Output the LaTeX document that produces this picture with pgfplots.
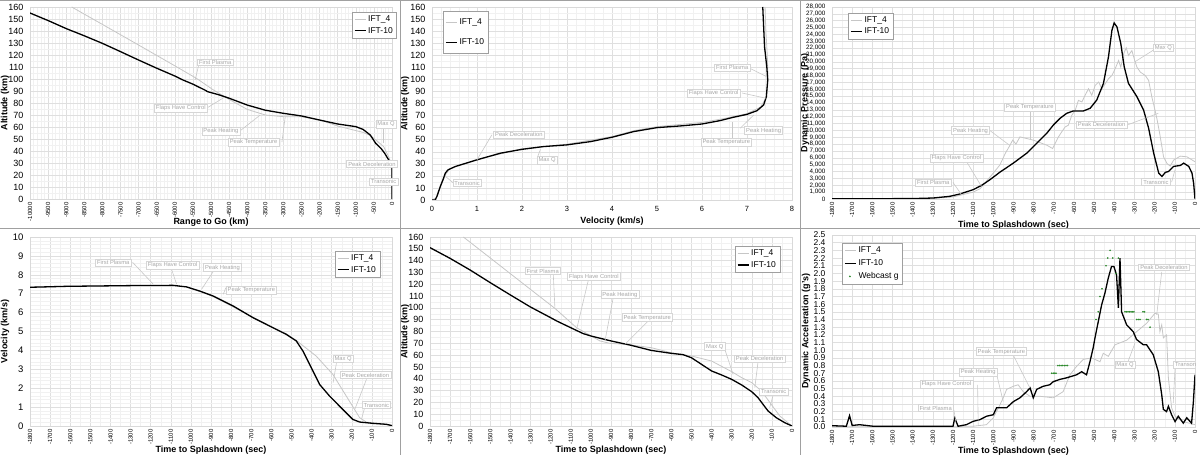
\documentclass[border=0pt]{standalone}
\usepackage{fontspec}
\setmainfont{Liberation Sans}
\usepackage{pgfplots}
\pgfplotsset{compat=1.18}

\definecolor{gline}{HTML}{C6C6C6}
\definecolor{annottext}{HTML}{A8A8A8}
\definecolor{annotbox}{HTML}{D6D6D6}
\definecolor{leadc}{HTML}{C8C8C8}
\definecolor{webg}{HTML}{2E8B2E}
\definecolor{sepc}{HTML}{A0A0A0}

\pgfplotsset{
  panel/.style={
    scale only axis,
    scaled ticks=false,
    clip mode=individual,
    axis line style={draw=gray!30, line width=0.5pt},
    major tick length=0pt, minor tick length=0pt,
    grid=both,
    major grid style={draw=gray!25, line width=0.45pt},
    minor grid style={draw=gray!11, line width=0.4pt},
    yticklabel style={font=\fontsize{9}{9}\selectfont, xshift=-3pt},
    /pgf/number format/assume math mode=true,
    /pgf/number format/1000 sep={},
    legend cell align=left,
    legend image code/.code={\draw[##1] plot coordinates {(0pt,0pt) (5pt,0pt) (11pt,0pt)};},
    legend style={draw=gray!75, line width=0.5pt, fill=white, font=\fontsize{8.5}{9}\selectfont, inner xsep=2pt, inner ysep=1.5pt, row sep=0pt},
  },
  rotx/.style={xticklabel style={font=\fontsize{6}{6}\selectfont, rotate=90, anchor=east}},
  ift4/.style={color=gline, line width=0.8pt},
  ift10/.style={color=black, line width=1.3pt},
}
\tikzset{
  annot/.style={draw=annotbox, fill=white, text=annottext, font=\fontsize{5.8}{6}\selectfont, inner xsep=1.6pt, inner ysep=1.3pt, line width=0.5pt},
  lead/.style={draw=leadc, line width=0.6pt},
}
\newcommand{\alab}{\bfseries\fontsize{9}{9}\selectfont}

\begin{document}
\begin{tikzpicture}
\useasboundingbox (0pt,0pt) rectangle (1200pt,455pt);

%================ Panel 1: Altitude vs Range to Go
\begin{axis}[panel, rotx, at={(30pt,256pt)}, anchor=south west, width=362pt, height=192pt,
  xmin=-10000, xmax=0, ymin=0, ymax=160,
  xtick distance=500, ytick distance=10, minor x tick num=4, minor y tick num=1,
  legend style={at={(1.0138,0.974)}, anchor=north east}]
\addplot[ift4] coordinates {(-8848,160) (-8000,145.5) (-7000,128.3) (-6000,111) (-5400,100.5) (-4930,90.8) (-4470,82.5) (-4000,74.7) (-3500,70) (-3000,68.6) (-2500,68.5) (-2000,66) (-1500,60.8) (-1000,57) (-800,55.5) (-600,53) (-400,48) (-230,43.6) (-90,35) (-20,30) (0,0)};
\addlegendentry{IFT\_4}
\addplot[ift10] coordinates {(-10000,155) (-9500,148.7) (-9000,142) (-8500,136) (-8000,129.7) (-7500,122.8) (-7000,115.8) (-6500,109) (-6000,102.5) (-5800,99.5) (-5500,95.7) (-5150,90.5) (-5100,89.5) (-4800,87) (-4500,84) (-4000,78.3) (-3500,74) (-3000,71.4) (-2500,69.2) (-2000,65.8) (-1500,62.5) (-1000,60.3) (-800,58) (-600,53.3) (-450,46.4) (-300,42) (-200,38) (-100,33) (-30,30) (0,27) (0,0)};
\addlegendentry{IFT-10}
\draw[lead] (axis cs:-5345,111) -- (axis cs:-5438,99.2);
\draw[lead] (axis cs:-5097,76.1) -- (axis cs:-4636,84.7);
\draw[lead] (axis cs:-4193,56.9) -- (axis cs:-3640,70);
\draw[lead] (axis cs:-3041,47.5) -- (axis cs:-2949,68.6);
\draw[lead] (axis cs:-230,58.9) -- (axis cs:-230,46.4);
\node[annot] at (axis cs:-4885,113.9) {First Plasma};
\node[annot] at (axis cs:-5834,76) {Flaps Have Control};
\node[annot] at (axis cs:-4728,56.4) {Peak Heating};
\node[annot] at (axis cs:-3825,47.5) {Peak Temperature};
\node[annot] at (axis cs:-165,62.5) {Max Q};
\node[annot] at (axis cs:-553,29.2) {Peak Deceleration};
\node[annot] at (axis cs:-230,14.4) {Transonic};
\end{axis}

%================ Panel 2: Altitude vs Velocity
\begin{axis}[panel, at={(432pt,255pt)}, anchor=south west, width=360pt, height=193pt,
  xmin=0, xmax=8, ymin=0, ymax=160,
  xtick distance=1, ytick distance=10, minor x tick num=4, minor y tick num=1,
  xticklabel style={font=\fontsize{7.5}{8}\selectfont, yshift=-3pt},
  legend style={at={(0.0306,0.979)}, anchor=north west, row sep=9pt, inner ysep=5pt}]
\addplot[ift4] coordinates {(0,0) (0.1,2) (0.2,12) (0.3,21) (0.4,26) (1.0,33.6) (2,42.5) (3,46.3) (4,52.6) (4.5,57.6) (5,60.8) (5.5,62.6) (6,64.3) (6.5,67.6) (7,71.6) (7.3,77) (7.43,85) (7.47,100) (7.45,120) (7.42,140) (7.4,160)};
\addlegendentry{IFT\_4}
\addplot[ift10] coordinates {(0.0,0) (0.07,0) (0.11,3) (0.185,11.3) (0.244,16.8) (0.296,22.3) (0.356,25) (0.52,27.8) (1.0,33.3) (1.52,38.8) (2.0,42) (2.48,44.3) (3.0,45.7) (3.52,48.4) (4.0,52) (4.48,56.7) (5.0,60) (5.52,61.4) (6.0,63) (6.4,65.8) (6.7,68.6) (7.0,71) (7.22,74) (7.37,78.8) (7.43,85.6) (7.46,99.4) (7.44,110.4) (7.39,126.9) (7.37,143.4) (7.35,160)};
\addlegendentry{IFT-10}
\draw[lead] (axis cs:7.04,109.6) -- (axis cs:7.44,102.2);
\draw[lead] (axis cs:6.89,88.7) -- (axis cs:7.43,84.3);
\draw[lead] (axis cs:6.85,59.5) -- (axis cs:7.15,70.5);
\draw[lead] (axis cs:6.67,51.2) -- (axis cs:6.67,65);
\draw[lead] (axis cs:1.33,54) -- (axis cs:1.0,33.3);
\draw[lead] (axis cs:2.35,36) -- (axis cs:2.41,42);
\draw[lead] (axis cs:0.48,14) -- (axis cs:0.3,19.5);
\node[annot] at (axis cs:6.67,109.6) {First Plasma};
\node[annot] at (axis cs:6.26,88.7) {Flaps Have Control};
\node[annot] at (axis cs:7.37,57.6) {Peak Heating};
\node[annot] at (axis cs:6.54,48.2) {Peak Temperature};
\node[annot] at (axis cs:1.93,54) {Peak Deceleration};
\node[annot] at (axis cs:2.56,32.8) {Max Q};
\node[annot] at (axis cs:0.78,14) {Transonic};
\end{axis}

%================ Panel 3: Dynamic Pressure vs Time
\begin{axis}[panel, rotx, at={(832pt,256pt)}, anchor=south west, width=363pt, height=192pt,
  xmin=-1800, xmax=0, ymin=0, ymax=28000,
  xtick distance=100, ytick distance=1000, minor x tick num=1,
  yticklabel style={font=\fontsize{6.3}{6.3}\selectfont, /pgf/number format/1000 sep={,}},
  legend style={at={(0.044,0.969)}, anchor=north west}]
\addplot[ift4] coordinates {(-1800,0) (-1400,0) (-1300,100) (-1200,300) (-1100,1000) (-1066,1500) (-1000,3780) (-967,4990) (-940,6700) (-918,7800) (-904,8600) (-888,8000) (-868,9060) (-801,8580) (-735,7850) (-706,7360) (-694,8090) (-677,9060) (-661,9790) (-644,10510) (-628,10760) (-611,12210) (-594,12940) (-578,14390) (-561,14150) (-545,15120) (-528,16090) (-512,15120) (-495,16570) (-478,17060) (-462,16090) (-445,16810) (-429,17540) (-412,18020) (-396,18990) (-379,20200) (-368,19230) (-354,21170) (-341,22050) (-330,20930) (-313,21650) (-300,20300) (-288,19230) (-271,18500) (-247,18020) (-230,17300) (-214,14870) (-202,13420) (-189,11720) (-175,9540) (-156,6150) (-139,5180) (-123,4800) (-106,5670) (-73,6250) (-40,6150) (0,5430)};
\addlegendentry{IFT\_4}
\addplot[ift10] coordinates {(-1800,30) (-1700,40) (-1600,40) (-1500,50) (-1400,60) (-1298,145) (-1216,390) (-1166,730) (-1100,1360) (-1058,1990) (-1017,2810) (-967,3920) (-901,5230) (-834,6690) (-801,7650) (-768,8620) (-735,9590) (-702,10800) (-669,11770) (-636,12500) (-603,12840) (-553,12840) (-520,13230) (-487,14440) (-454,16860) (-429,20740) (-412,24610) (-401,25680) (-387,25100) (-368,22670) (-351,19280) (-330,16860) (-288,14920) (-255,12980) (-230,10320) (-205,6690) (-180,3780) (-164,3290) (-147,3880) (-131,4020) (-106,4750) (-73,4890) (-56,5230) (-31,4750) (-15,3780) (-7,2330) (0,0)};
\addlegendentry{IFT-10}
\draw[lead] (axis cs:-1200,2420) -- (axis cs:-1158,630);
\draw[lead] (axis cs:-1133,5475) -- (axis cs:-1059,1840);
\draw[lead] (axis cs:-1017,9980) -- (axis cs:-918,7800);
\draw[lead] (axis cs:-819,12740) -- (axis cs:-819,8620);
\draw[lead] (axis cs:-207,21700) -- (axis cs:-298,20010);
\draw[lead] (axis cs:-331,10850) -- (axis cs:-182,12500);
\draw[lead] (axis cs:-116,2470) -- (axis cs:-99,4260);
\node[annot] at (axis cs:-1298,2420) {First Plasma};
\node[annot] at (axis cs:-1183,6008) {Flaps Have Control};
\node[annot] at (axis cs:-1113,9980) {Peak Heating};
\node[annot] at (axis cs:-819,13370) {Peak Temperature};
\node[annot] at (axis cs:-157,22040) {Max Q};
\node[annot] at (axis cs:-463,10850) {Peak Deceleration};
\node[annot] at (axis cs:-194,2470) {Transonic};
\end{axis}

%================ Panel 4: Velocity vs Time
\begin{axis}[panel, rotx, at={(30pt,29pt)}, anchor=south west, width=362pt, height=189pt,
  xmin=-1800, xmax=0, ymin=0, ymax=10,
  xtick distance=100, ytick distance=1, minor x tick num=1, minor y tick num=4,
  yticklabel style={font=\fontsize{9.5}{9.5}\selectfont},
  legend style={at={(0.967,0.926)}, anchor=north east}]
\addplot[ift4] coordinates {(-1800,7.34) (-1618,7.39) (-1287,7.43) (-1088,7.44) (-1022,7.36) (-956,7.12) (-890,6.85) (-790,6.3) (-691,5.75) (-592,5.22) (-526,4.88) (-476,4.53) (-377,3.7) (-294,2.73) (-212,1.32) (-161,0.44) (-128,0.21) (-61,0.12) (0,0.02)};
\addlegendentry{IFT\_4}
\addplot[ift10] coordinates {(-1800,7.34) (-1618,7.39) (-1287,7.43) (-1088,7.44) (-1022,7.36) (-956,7.14) (-890,6.88) (-790,6.35) (-691,5.73) (-592,5.2) (-526,4.85) (-476,4.5) (-443,3.97) (-393,2.91) (-360,2.2) (-311,1.59) (-245,0.88) (-195,0.35) (-161,0.21) (-95,0.14) (-28,0.09) (0,0.02)};
\addlegendentry{IFT-10}
\draw[lead] (axis cs:-1290,8.66) -- (axis cs:-1187,7.5);
\draw[lead] (axis cs:-1096,8.29) -- (axis cs:-1071,7.5);
\draw[lead] (axis cs:-889,8.17) -- (axis cs:-947,7.23);
\draw[lead] (axis cs:-826,7.32) -- (axis cs:-839,6.97);
\draw[lead] (axis cs:-276,3.35) -- (axis cs:-293,2.29);
\draw[lead] (axis cs:-127,2.47) -- (axis cs:-185,0.88);
\draw[lead] (axis cs:-136,0.97) -- (axis cs:-152,0.35);
\node[annot] at (axis cs:-1386,8.66) {First Plasma};
\node[annot] at (axis cs:-1091,8.5) {Flaps Have Control};
\node[annot] at (axis cs:-843,8.38) {Peak Heating};
\node[annot] at (axis cs:-699,7.2) {Peak Temperature};
\node[annot] at (axis cs:-243,3.56) {Max Q};
\node[annot] at (axis cs:-132,2.7) {Peak Deceleration};
\node[annot] at (axis cs:-78,1.11) {Transonic};
\end{axis}

%================ Panel 5: Altitude vs Time
\begin{axis}[panel, rotx, at={(430pt,29pt)}, anchor=south west, width=362pt, height=189pt,
  xmin=-1800, xmax=0, ymin=0, ymax=160,
  xtick distance=100, ytick distance=10, minor x tick num=1, minor y tick num=1,
  legend style={at={(0.967,0.952)}, anchor=north east}]
\addplot[ift4] coordinates {(-1634,160) (-1500,142.2) (-1400,128.9) (-1300,115.6) (-1179,99.6) (-1071,83.2) (-955,72) (-906,70) (-823,69.1) (-700,66.3) (-600,62) (-500,59.3) (-400,55) (-300,46) (-250,40.9) (-200,36.7) (-152,29.6) (-103,18.3) (-61,8.5) (0,0)};
\addlegendentry{IFT\_4}
\addplot[ift10] coordinates {(-1800,151) (-1700,141.9) (-1600,132) (-1500,121.3) (-1400,110.9) (-1300,100.7) (-1200,91.7) (-1170,88.9) (-1100,83.2) (-1038,78.2) (-1000,76.2) (-900,72) (-800,68.3) (-700,64) (-600,61.5) (-542,60.4) (-500,57.8) (-450,52.2) (-400,46.6) (-350,43.2) (-300,39.5) (-250,34.7) (-200,29) (-169,24) (-144,18.3) (-119,12.7) (-78,7) (-36,2.8) (0,0)};
\addlegendentry{IFT-10}
\draw[lead] (axis cs:-1187,128.4) -- (axis cs:-1179,100.2);
\draw[lead] (axis cs:-1013,123.3) -- (axis cs:-1071,81.8);
\draw[lead] (axis cs:-889,108.6) -- (axis cs:-930,72);
\draw[lead] (axis cs:-715,88.9) -- (axis cs:-831,69.1);
\draw[lead] (axis cs:-334,64.9) -- (axis cs:-293,43.7);
\draw[lead] (axis cs:-169,54.2) -- (axis cs:-185,32.4);
\draw[lead] (axis cs:-94,26.2) -- (axis cs:-111,15.5);
\node[annot] at (axis cs:-1240,131.2) {First Plasma};
\node[annot] at (axis cs:-985,126.4) {Flaps Have Control};
\node[annot] at (axis cs:-856,111.2) {Peak Heating};
\node[annot] at (axis cs:-720,91.7) {Peak Temperature};
\node[annot] at (axis cs:-384,67.2) {Max Q};
\node[annot] at (axis cs:-161,57) {Peak Deceleration};
\node[annot] at (axis cs:-91,29.1) {Transonic};
\end{axis}

%================ Panel 6: Dynamic Acceleration vs Time
\begin{axis}[panel, rotx, at={(832pt,28pt)}, anchor=south west, width=363pt, height=192pt,
  xmin=-1800, xmax=0, ymin=0, ymax=2.5,
  xtick distance=100, minor x tick num=1,
  ytick={0,0.1,0.2,0.3,0.4,0.5,0.6,0.7,0.8,0.9,1.0,1.1,1.2,1.3,1.4,1.5,1.6,1.7,1.8,1.9,2.0,2.1,2.2,2.3,2.4,2.5},
  yticklabel style={font=\fontsize{8.5}{8.5}\selectfont, /pgf/number format/.cd, fixed, fixed zerofill, precision=1},
  legend style={at={(0.0275,0.958)}, anchor=north west, row sep=1.5pt}]
\addplot[ift4] coordinates {(-1800,0.01) (-1100,0.01) (-1034,0.03) (-1000,0.12) (-967,0.29) (-951,0.38) (-934,0.49) (-901,0.53) (-877,0.55) (-852,0.46) (-818,0.40) (-769,0.40) (-703,0.38) (-654,0.46) (-620,0.68) (-587,0.79) (-554,0.88) (-513,0.90) (-471,0.85) (-455,0.96) (-430,0.92) (-397,1.07) (-339,1.13) (-290,1.24) (-240,1.35) (-199,1.48) (-182,1.47) (-174,1.24) (-165,1.33) (-157,1.16) (-141,1.2) (-132,0.64) (-116,0.25) (-99,0.14) (-58,0.07) (0,0.03)};
\addlegendentry{IFT\_4}
\addplot[ift10] coordinates {(-1800,0.017) (-1729,0.01) (-1713,0.147) (-1700,0.02) (-1663,0.03) (-1597,0.01) (-1400,0.01) (-1200,0.01) (-1191,0.117) (-1175,0.01) (-1134,0.03) (-1100,0.074) (-1067,0.095) (-1034,0.14) (-1000,0.16) (-984,0.25) (-934,0.25) (-901,0.33) (-868,0.38) (-835,0.46) (-818,0.51) (-802,0.38) (-785,0.49) (-753,0.53) (-720,0.55) (-703,0.59) (-670,0.62) (-637,0.64) (-612,0.66) (-587,0.68) (-562,0.72) (-538,0.68) (-521,0.85) (-505,1.03) (-496,1.16) (-463,1.59) (-447,1.74) (-430,1.94) (-414,2.09) (-402,2.09) (-389,1.98) (-380,1.55) (-372,2.2) (-364,1.5) (-339,1.33) (-306,1.24) (-290,1.14) (-256,1.07) (-240,1.07) (-207,0.94) (-182,0.72) (-165,0.42) (-157,0.23) (-141,0.2) (-132,0.27) (-116,0.16) (-99,0.07) (-83,0.14) (-58,0.05) (-41,0.12) (-17,0.05) (-8,0.33) (0,0.68)};
\addlegendentry{IFT-10}
\addplot[only marks, mark=*, mark size=0.6pt, color=webg, legend image code/.code={\fill[webg] (5pt,0pt) circle (0.6pt);}] coordinates {(-710,0.7) (-703,0.7) (-696,0.7) (-689,0.7) (-680,0.8) (-672,0.8) (-664,0.8) (-656,0.8) (-648,0.8) (-640,0.8) (-632,0.8) (-491,1.4) (-480,1.5) (-471,1.7) (-461,1.8) (-441,2.1) (-433,2.2) (-421,2.3) (-408,2.2) (-392,2.0) (-380,2.2) (-347,1.5) (-340,1.5) (-332,1.5) (-325,1.5) (-317,1.5) (-310,1.5) (-303,1.5) (-289,1.4) (-281,1.4) (-273,1.4) (-258,1.5) (-250,1.5) (-240,1.4) (-233,1.4) (-223,1.3)};
\addlegendentry{Webcast g}
\draw[lead] (axis cs:-1196,0.225) -- (axis cs:-1186,0.074);
\draw[lead] (axis cs:-1078,0.55) -- (axis cs:-1075,0.03);
\draw[lead] (axis cs:-984,0.69) -- (axis cs:-951,0.33);
\draw[lead] (axis cs:-902,0.94) -- (axis cs:-819,0.51);
\draw[lead] (axis cs:-331,0.86) -- (axis cs:-298,1.09);
\draw[lead] (axis cs:-165,2.02) -- (axis cs:-190,1.46);
\draw[lead] (axis cs:-99,0.77) -- (axis cs:-108,0.31);
\node[annot] at (axis cs:-1286,0.247) {First Plasma};
\node[annot] at (axis cs:-1233,0.563) {Flaps Have Control};
\node[annot] at (axis cs:-1075,0.71) {Peak Heating};
\node[annot] at (axis cs:-960,0.98) {Peak Temperature};
\node[annot] at (axis cs:-347,0.81) {Max Q};
\node[annot] at (axis cs:-154,2.08) {Peak Deceleration};
\begin{scope}
\clip (rel axis cs:0,0) rectangle (rel axis cs:1,1);
\node[annot, anchor=west] at (axis cs:-108,0.81) {Transonic};
\end{scope}
\end{axis}

%================ axis titles
\node[rotate=90, font=\alab] at (5pt,352pt) {Altitude (km)};
\node[font=\alab] at (211pt,233pt) {Range to Go (km)};
\node[rotate=90, font=\alab] at (405pt,351.5pt) {Altitude (km)};
\node[font=\alab] at (612pt,234pt) {Velocity (km/s)};
\node[rotate=90, font=\alab] at (805pt,352pt) {Dynamic Pressure (Pa)};
\node[font=\alab] at (1013.5pt,230pt) {Time to Splashdown (sec)};
\node[rotate=90, font=\alab] at (5pt,123.5pt) {Velocity (km/s)};
\node[font=\alab] at (211pt,5pt) {Time to Splashdown (sec)};
\node[rotate=90, font=\alab] at (405pt,123.5pt) {Altitude (km)};
\node[font=\alab] at (611pt,5pt) {Time to Splashdown (sec)};
\node[rotate=90, font=\alab] at (806pt,124pt) {Dynamic Acceleration (g's)};
\node[font=\alab] at (1013.5pt,4pt) {Time to Splashdown (sec)};

%================ panel separators
\draw[sepc, line width=1pt] (0pt,454.5pt) -- (1200pt,454.5pt);
\draw[sepc, line width=1pt] (0pt,226pt) -- (1200pt,226pt);
\draw[sepc, line width=1pt] (400pt,0pt) -- (400pt,455pt);
\draw[sepc, line width=1pt] (800pt,0pt) -- (800pt,455pt);
\end{tikzpicture}
\end{document}
